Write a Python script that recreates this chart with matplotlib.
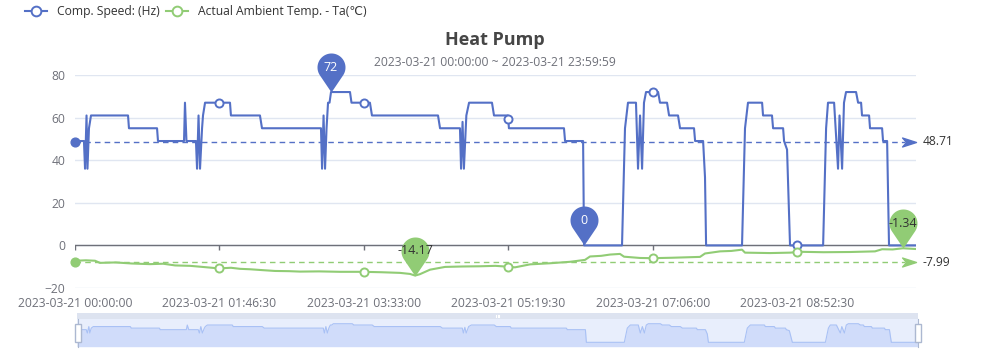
import matplotlib
matplotlib.use("Agg")
import matplotlib.pyplot as plt
import matplotlib.path as mpath
import numpy as np
from matplotlib.lines import Line2D
from matplotlib.patches import Rectangle

plt.rcParams['font.family'] = ['Open Sans', 'DejaVu Sans']

# ---- data (time in minutes after 2023-03-21 00:00:00) ----
speed_t = [0, 6.6, 7.4, 8.5, 9.2, 10.3, 11.8, 39.1, 39.8, 60.5, 61.2, 80.4, 81.1, 82.2,
           89.2, 90.0, 91.1, 92.2, 93.7, 94.4, 95.9, 114.3, 115.0, 136.4, 137.9, 181.4,
           182.2, 183.3, 184.4, 185.5, 186.6, 187.7, 188.8, 202.8, 203.9, 217.5, 219.0,
           267.7, 269.2, 283.9, 284.7, 285.8, 286.8, 288.6, 290.6, 307.5, 309.0, 319.3,
           320.0, 360.6, 361.4, 374.7, 375.4, 403.4, 405.6, 407.8, 413.7, 415.2, 416.7,
           418.2, 419.6, 421.1, 430.0, 431.4, 436.6, 438.1, 444.7, 446.2, 456.5, 457.3,
           463.2, 464.6, 465.4, 491.9, 494.1, 496.3, 506.7, 507.4, 514.0, 514.8, 522.2,
           522.9, 525.1, 527.3, 551.7, 553.9, 555.3, 559.8, 562.7, 563.8, 565.7, 567.1,
           568.6, 576.0, 577.5, 579.7, 580.4, 585.6, 586.3, 595.2, 595.9, 598.9, 600.3,
           620.2]
speed_v = [49, 49, 36, 61, 36, 55, 61, 61, 55, 55, 49, 49, 67, 49,
           49, 36, 61, 36, 55, 61, 67, 67, 61, 61, 55, 55,
           36, 61, 36, 55, 67, 67, 72, 72, 67, 67, 61,
           61, 55, 55, 36, 58, 36, 61, 67, 67, 61, 61,
           55, 55, 49, 49, 0, 0, 55, 67, 67, 36, 61,
           36, 67, 72, 72, 67, 67, 61, 61, 55, 55, 49,
           49, 32, 0, 0, 55, 67, 67, 61, 61, 55, 55,
           49, 45, 0, 0, 55, 67, 67, 36, 61, 36, 67,
           72, 72, 67, 67, 61, 61, 55, 55, 49, 49, 0,
           0]

temp_t = [0, 8, 14.8, 18.4, 30, 42, 55.3, 65, 73.8, 85, 92.2, 106.2, 115, 121.7, 129,
          138, 147.5, 158, 166, 180, 195.4, 212.4, 226, 239.7, 247.1, 250.8, 254.4,
          261.8, 272.9, 286, 298.7, 310, 319.3, 324.5, 335.6, 350, 365.1, 376.1,
          379.8, 388, 394.6, 401.9, 404.9, 416.7, 425.5, 440, 460.9, 464.6, 475.7,
          484, 491.9, 494.1, 512.6, 527.3, 531.7, 534.7, 552, 571.6, 590, 595.2,
          603, 610.6, 620.2]
temp_v = [-7.2, -7.0, -7.2, -8.2, -8.0, -8.5, -8.8, -8.6, -9.4, -9.6, -10.0, -10.8,
          -10.5, -11.0, -11.2, -11.6, -12.0, -12.1, -12.3, -12.2, -12.4, -12.4, -12.6,
          -12.9, -13.4, -14.17, -13.5, -11.4, -10.1, -9.9, -9.8, -9.6, -10.0, -10.3,
          -8.9, -8.4, -7.7, -6.8, -5.2, -4.9, -4.3, -4.0, -5.3, -5.9, -6.0, -5.8,
          -5.4, -3.8, -2.8, -2.6, -2.0, -3.4, -3.6, -3.4, -3.2, -3.0, -3.2, -3.1,
          -2.8, -1.8, -1.9, -1.34, -1.7]

speed_avg = 48.71
temp_avg = -7.99

tick_t = [0, 106.5, 213, 319.5, 426, 532.5]
tick_labels = ['2023-03-21 00:00:00', '2023-03-21 01:46:30', '2023-03-21 03:33:00',
               '2023-03-21 05:19:30', '2023-03-21 07:06:00', '2023-03-21 08:52:30']

series_names = ['Comp. Speed: (Hz)', 'Actual Ambient Temp. - Ta(℃)']
title = 'Heat Pump'
subtitle = '2023-03-21 00:00:00 ~ 2023-03-21 23:59:59'

BLUE = '#5470c6'
GREEN = '#91cc75'
AXIS = '#6e7079'
W, H = 991, 354


def fx(x):
    return x / W


def fy(y):
    return 1 - y / H


# pin marker: tip at origin, circle above
r, d = 14.0, 25.0
th = np.degrees(np.arccos(r / d))
angs = np.radians(np.linspace(-90 + th, 270 - th, 40))
pin_verts = [(0, 0)] + [(r * np.cos(a), d + r * np.sin(a)) for a in angs] + [(0, 0)]
pin = mpath.Path(pin_verts, closed=True)
pin_ms = 2 * (d + r) * 0.72

arrow = mpath.Path([(0, 0), (-14, 4.5), (-10, 0), (-14, -4.5), (0, 0)], closed=True)

fig = plt.figure(figsize=(W / 100, H / 100), dpi=100)
ax = fig.add_axes([fx(75), fy(288), fx(841), 213 / H])
t_end = speed_t[-1]
ax.set_xlim(0, t_end)
ax.set_ylim(-20, 80)
ax.set_yticks([-20, 0, 20, 40, 60, 80])
ax.yaxis.grid(True, color='#e0e6f1', lw=1)
ax.set_axisbelow(True)
for s in ax.spines.values():
    s.set_visible(False)
ax.tick_params(axis='y', length=0, pad=7, labelcolor=AXIS, labelsize=8.7)
ax.set_xticks(tick_t, tick_labels)
ax.tick_params(axis='x', length=0, pad=6.5, labelcolor=AXIS, labelsize=8.7)

ax.axhline(0, color=AXIS, lw=1, zorder=2)
ax.plot(tick_t, [0] * len(tick_t), ls='none', marker=3, ms=3.6, mec=AXIS, mew=1, zorder=2)

# series
for tt, vv, c in [(speed_t, speed_v, BLUE), (temp_t, temp_v, GREEN)]:
    ax.plot(tt, vv, color=c, lw=1.5, zorder=3)
    sym = np.interp(tick_t[1:], tt, vv)
    ax.plot(tick_t[1:], sym, ls='none', marker='o', ms=5.8, mfc='white', mec=c, mew=1.4,
            zorder=4)

# average mark lines
for avg, c in [(speed_avg, BLUE), (temp_avg, GREEN)]:
    ax.plot([0, t_end - 8], [avg, avg], color=c, lw=1, dashes=(4, 3), zorder=3)
    ax.plot([0], [avg], ls='none', marker='o', ms=6.3, color=c, zorder=5, clip_on=False)
    ax.plot([t_end], [avg], ls='none', marker=arrow, ms=20, color=c, zorder=5, clip_on=False)
    ax.annotate(f'{avg:.2f}', (t_end, avg), xytext=(5, 0), textcoords='offset points',
                ha='left', va='center', fontsize=8.7, color='#333333', annotation_clip=False)

# mark points (max / min pins)
for tt, vv, c, tc in [(speed_t, speed_v, BLUE, 'white'), (temp_t, temp_v, GREEN, '#333333')]:
    vv = np.asarray(vv)
    for i in (int(np.argmax(vv)), int(np.argmin(vv))):
        ax.plot([tt[i]], [vv[i]], ls='none', marker=pin, ms=pin_ms, color=c, mew=0,
                zorder=6, clip_on=False)
        ax.annotate(f'{vv[i]:g}', (tt[i], vv[i]), xytext=(0, d * 0.72),
                    textcoords='offset points', ha='center', va='center', fontsize=9,
                    color=tc, zorder=7, annotation_clip=False)

# title
fig.text(fx(495), fy(40), title, ha='center', va='center', fontsize=13, fontweight='bold',
         color='#464646')
fig.text(fx(495), fy(62), subtitle, ha='center', va='center', fontsize=8.7, color=AXIS)

# legend
lx = [25, 166]
tx = [57, 198]
for i, c in enumerate([BLUE, GREEN]):
    fig.add_artist(Line2D([fx(lx[i]), fx(lx[i] + 22)], [fy(11), fy(11)], color=c, lw=1.5,
                          transform=fig.transFigure))
    fig.add_artist(Line2D([fx(lx[i] + 11)], [fy(11)], ls='none', marker='o', ms=7,
                          mfc='white', mec=c, mew=1.4, transform=fig.transFigure))
    fig.text(fx(tx[i]), fy(11), series_names[i], ha='left', va='center', fontsize=8.7,
             color='#333333')

# data zoom slider
sl = fig.add_axes([fx(77.3), fy(346.7), fx(841), 33.4 / H])
sl.set_xlim(0, t_end)
sl.set_ylim(-17, 112.4)
sl.axis('off')
sl.add_patch(Rectangle((0, -17), t_end, 106, facecolor='#e8eefc', edgecolor='none'))
sl.add_patch(Rectangle((0, 89), t_end, 23.4, facecolor='#dde3f0', edgecolor='none'))
sl.fill_between(speed_t, speed_v, -17, color='#d0dcfa', lw=0)
sl.plot(speed_t, speed_v, color='#a9c1f5', lw=0.8)
mid = t_end / 2
for k in (-1.2, 0, 1.2):
    sl.plot([mid + k, mid + k], [97, 104], color='white', lw=0.8)
for hx in (75, 915):
    fig.add_artist(Rectangle((fx(hx), fy(342)), fx(5.7), 18 / H, facecolor='white',
                             edgecolor='#acb8d1', lw=1, transform=fig.transFigure))
    fig.add_artist(Line2D([fx(hx + 2.85)] * 2, [fy(319), fy(347)], color='#acb8d1', lw=0.8,
                          transform=fig.transFigure, zorder=0.5))

fig.savefig('out.png', dpi=100)
